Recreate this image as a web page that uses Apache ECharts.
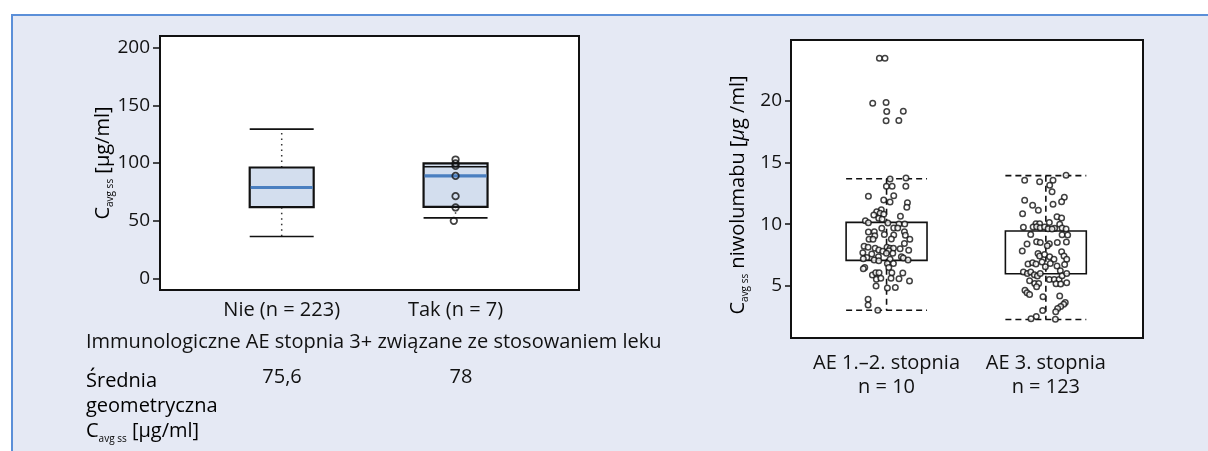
<!DOCTYPE html>
<html lang="pl">
<head>
<meta charset="UTF-8">
<title>Cavg ss – niwolumab</title>
<script src="https://cdn.jsdelivr.net/npm/echarts@6.0.0/dist/echarts.min.js"></script>
<style>
  * { margin: 0; padding: 0; box-sizing: border-box; }
  body { width: 1208px; height: 451px; background: #fff; position: relative; overflow: hidden; }
  .panel {
    position: absolute; left: 11px; top: 14px; right: 0; bottom: 0;
    background: #e5e9f4;
    border-top: 2px solid #5b8fd8;
    border-left: 2px solid #5b8fd8;
  }
  #chart { position: absolute; left: 0; top: 0; width: 1208px; height: 451px; }
</style>
</head>
<body>
<div class="panel"></div>
<div id="chart"></div>
<script>
// ---- left panel: Cavg ss vs immune AE grade 3+ ----
const leftCats = ['Nie (n = 223)', 'Tak (n = 7)'];
// [x, lower whisker, Q1, median, Q3, upper whisker]
const leftBoxes = [
  [1, 36.4, 61.7, 78.8, 96.1, 129.3],
  [2, 52.5, 62.0, 88.8, 99.6, 96.8]
];
const takPoints = [
  [2.0, 103.0], [2.0, 99.6], [2.0, 97.5], [2.0, 88.8],
  [2.0, 71.3], [2.0, 61.5], [1.99, 49.9]
];
const leftTicks = [0, 50, 100, 150, 200];
const geoMeans = ['75,6', '78'];

// ---- right panel: niwolumab Cavg ss vs AE grade ----
const rightCats = ['AE 1.–2. stopnia\nn = 10', 'AE 3. stopnia\nn = 123'];
// [x, lower whisker, Q1, Q3, upper whisker]
const rightBoxes = [
  [1, 3.05, 7.08, 10.15, 13.68],
  [2, 2.30, 6.00, 9.45, 13.93]
];
const rightTicks = [5, 10, 15, 20];
const grade12Points = [
  [0.955, 23.43], [0.99, 23.43],
  [0.913, 19.79], [0.997, 19.84], [1.001, 19.11], [1.105, 19.14], [0.997, 18.36], [1.077, 18.38],
  [1.022, 13.66], [1.122, 13.74], [0.999, 13.07], [1.035, 13.07], [1.121, 13.07],
  [0.886, 12.26], [1.045, 12.31], [0.982, 11.96], [1.022, 11.80], [1.131, 11.74], [1.127, 11.37],
  [0.967, 11.17], [0.938, 11.01], [0.959, 10.88], [0.920, 10.74], [0.982, 10.80], [1.087, 10.64],
  [0.951, 10.48], [0.972, 10.40], [0.867, 10.28], [0.886, 10.12], [1.008, 10.10], [1.078, 10.02], [1.114, 10.02],
  [1.045, 9.69], [1.070, 9.69], [0.970, 9.67], [1.112, 9.40], [0.886, 9.37], [0.923, 9.40],
  [0.986, 9.18], [1.045, 9.13], [1.118, 9.10], [0.926, 9.07],
  [0.890, 8.78], [0.915, 8.78], [1.146, 8.78], [1.030, 8.80], [1.112, 8.45], [0.859, 8.23], [0.884, 8.13],
  [0.928, 8.05], [1.003, 8.13], [1.022, 8.05], [1.043, 8.05], [1.085, 8.02],
  [0.851, 7.69], [0.907, 7.59], [0.951, 7.91], [0.976, 7.81], [1.014, 7.85], [1.139, 7.89], [0.999, 7.65], [1.039, 7.65],
  [0.876, 7.32], [0.949, 7.37], [1.093, 7.37], [1.105, 7.26], [1.135, 7.10], [0.854, 7.21], [0.922, 7.10], [1.022, 7.16], [0.951, 7.04],
  [0.863, 6.51], [0.854, 6.40], [1.005, 6.83], [1.043, 6.83], [1.014, 6.51],
  [0.911, 5.89], [0.932, 6.07], [0.953, 6.07], [1.033, 6.07], [1.102, 6.05],
  [0.936, 5.56], [0.964, 5.64], [1.028, 5.64], [1.078, 5.59], [1.144, 5.40],
  [0.934, 5.00], [1.005, 4.84], [1.055, 4.89],
  [0.884, 3.94], [0.884, 3.46], [0.945, 3.05]
];
const grade3Points = [
  [2.127, 13.96], [1.867, 13.55], [1.961, 13.44], [2.045, 13.55], [2.024, 13.15], [2.039, 12.63], [2.116, 12.18], [2.099, 11.82],
  [1.867, 11.94], [1.917, 11.53], [2.045, 11.61], [1.953, 11.13], [1.854, 10.85], [2.070, 10.61], [2.099, 10.50],
  [2.022, 10.15], [1.938, 10.04], [1.961, 10.04], [1.859, 9.75], [1.920, 9.77], [1.942, 9.80], [1.965, 9.72], [1.992, 9.77],
  [2.014, 9.64], [2.055, 9.67], [2.087, 9.99], [2.102, 9.69], [2.127, 9.61], [2.039, 9.61],
  [1.905, 9.18], [2.102, 9.15], [2.137, 9.13],
  [1.882, 8.40], [1.942, 8.59], [1.965, 8.53], [2.022, 8.42], [2.072, 8.53], [2.129, 8.56],
  [2.009, 8.26], [1.852, 7.83], [1.951, 7.64], [1.961, 7.43], [1.992, 7.56], [2.024, 7.37], [2.051, 7.16], [2.099, 7.77], [2.114, 7.43], [2.131, 7.16],
  [2.118, 6.75], [1.888, 6.78], [1.917, 6.88], [1.938, 6.78], [1.976, 6.94], [1.997, 6.56], [2.028, 6.83], [2.070, 6.62], [2.091, 6.24],
  [1.859, 6.13], [1.884, 6.02], [1.905, 6.13], [1.928, 5.91], [1.947, 5.81], [1.965, 6.02],
  [2.022, 5.53], [2.053, 5.53], [2.083, 5.53], [2.102, 5.83], [2.131, 6.02],
  [1.898, 5.43], [1.930, 5.21], [1.955, 5.21], [1.942, 4.94], [2.064, 5.18], [2.093, 5.16], [2.131, 5.26],
  [1.869, 4.67], [1.882, 4.45], [1.898, 4.32], [1.982, 4.13], [2.087, 4.19],
  [2.122, 3.68], [2.112, 3.52], [2.093, 3.35], [2.074, 3.19], [2.062, 2.92], [1.980, 3.03], [1.940, 2.54], [1.907, 2.35], [2.060, 2.32]
];

const FONT = "'Open Sans', 'Noto Sans', sans-serif";
const INK = '#111';
const subRich = {
  m: { fontFamily: FONT, fontSize: 20, color: INK, lineHeight: 25 },
  s: { fontFamily: FONT, fontSize: 10, color: INK, lineHeight: 10, verticalAlign: 'bottom' },
  i: { fontFamily: FONT, fontSize: 20, color: INK, lineHeight: 25, fontStyle: 'italic' }
};

const chart = echarts.init(document.getElementById('chart'));

function renderLeftBox(params, api) {
  const x = api.value(0);
  const half = api.size([0.368, 0])[0] / 2;
  const lo = api.coord([x, api.value(1)]);
  const q1 = api.coord([x, api.value(2)]);
  const med = api.coord([x, api.value(3)]);
  const q3 = api.coord([x, api.value(4)]);
  const hi = api.coord([x, api.value(5)]);
  const cx = lo[0];
  const dotted = { stroke: '#333', lineWidth: 1.5, lineDash: [1.5, 4] };
  const solid = { stroke: INK, lineWidth: 1.6 };
  return {
    type: 'group',
    children: [
      { type: 'line', shape: { x1: cx, y1: q3[1], x2: cx, y2: hi[1] }, style: dotted },
      { type: 'line', shape: { x1: cx, y1: q1[1], x2: cx, y2: lo[1] }, style: dotted },
      { type: 'rect', shape: { x: cx - half, y: q3[1], width: half * 2, height: q1[1] - q3[1] },
        style: { fill: '#d3deee', stroke: INK, lineWidth: 2.2 } },
      { type: 'line', shape: { x1: cx - half + 1, y1: med[1], x2: cx + half - 1, y2: med[1] },
        style: { stroke: '#4a7fc0', lineWidth: 3.2 } },
      { type: 'line', shape: { x1: cx - half, y1: hi[1], x2: cx + half, y2: hi[1] }, style: solid },
      { type: 'line', shape: { x1: cx - half, y1: lo[1], x2: cx + half, y2: lo[1] }, style: solid }
    ]
  };
}

function renderRightBox(params, api) {
  const x = api.value(0);
  const half = api.size([0.508, 0])[0] / 2;
  const lo = api.coord([x, api.value(1)]);
  const q1 = api.coord([x, api.value(2)]);
  const q3 = api.coord([x, api.value(3)]);
  const hi = api.coord([x, api.value(4)]);
  const cx = lo[0];
  const dashed = { stroke: INK, lineWidth: 1.6, lineDash: [6, 4] };
  return {
    type: 'group',
    children: [
      { type: 'line', shape: { x1: cx, y1: hi[1], x2: cx, y2: lo[1] }, style: dashed },
      { type: 'line', shape: { x1: cx - half, y1: hi[1], x2: cx + half, y2: hi[1] }, style: dashed },
      { type: 'line', shape: { x1: cx - half, y1: lo[1], x2: cx + half, y2: lo[1] }, style: dashed },
      { type: 'rect', shape: { x: cx - half, y: q3[1], width: half * 2, height: q1[1] - q3[1] },
        style: { fill: 'none', stroke: INK, lineWidth: 1.6 } }
    ]
  };
}

const labelStyle = { color: INK, fontFamily: FONT };
const pointStyle = { color: '#fff', borderColor: INK, borderWidth: 1.5 };

chart.setOption({
  animation: false,
  grid: [
    { left: 160, top: 36, width: 419, height: 254, show: true, backgroundColor: '#fff', borderColor: INK, borderWidth: 2 },
    { left: 791, top: 40, width: 352, height: 298, show: true, backgroundColor: '#fff', borderColor: INK, borderWidth: 2 }
  ],
  xAxis: [
    {
      gridIndex: 0, type: 'value', min: 0.3, max: 2.71,
      axisLine: { show: false }, axisTick: { show: false }, splitLine: { show: false },
      axisLabel: {
        customValues: [1, 2], margin: 10, fontSize: 20, ...labelStyle,
        formatter: v => leftCats[Math.round(v) - 1]
      }
    },
    {
      gridIndex: 1, type: 'value', min: 0.4, max: 2.61,
      axisLine: { show: false }, axisTick: { show: false }, splitLine: { show: false },
      axisLabel: {
        customValues: [1, 2], margin: 13, fontSize: 20, lineHeight: 24, ...labelStyle,
        formatter: v => rightCats[Math.round(v) - 1]
      }
    }
  ],
  yAxis: [
    {
      gridIndex: 0, type: 'value', min: -10, max: 210,
      axisLine: { show: false }, splitLine: { show: false },
      axisTick: { show: true, customValues: leftTicks, length: 7, lineStyle: { color: INK, width: 1.5 } },
      axisLabel: { customValues: leftTicks, margin: 10, fontSize: 19, ...labelStyle }
    },
    {
      gridIndex: 1, type: 'value', min: 0.8, max: 24.9,
      axisLine: { show: false }, splitLine: { show: false },
      axisTick: { show: true, customValues: rightTicks, length: 6, lineStyle: { color: INK, width: 1.5 } },
      axisLabel: { customValues: rightTicks, margin: 9, fontSize: 19, ...labelStyle }
    }
  ],
  series: [
    {
      type: 'custom', xAxisIndex: 0, yAxisIndex: 0, renderItem: renderLeftBox,
      encode: { x: 0, y: [1, 2, 3, 4, 5] }, data: leftBoxes, z: 2
    },
    {
      type: 'scatter', xAxisIndex: 0, yAxisIndex: 0, data: takPoints, z: 3,
      symbol: 'circle', symbolSize: 6.5,
      itemStyle: { color: 'rgba(255,255,255,0)', borderColor: INK, borderWidth: 1.8 }
    },
    {
      type: 'custom', xAxisIndex: 1, yAxisIndex: 1, renderItem: renderRightBox,
      encode: { x: 0, y: [1, 2, 3, 4] }, data: rightBoxes, z: 2
    },
    {
      type: 'scatter', xAxisIndex: 1, yAxisIndex: 1, data: grade12Points, z: 3,
      symbol: 'circle', symbolSize: 5.5, itemStyle: pointStyle
    },
    {
      type: 'scatter', xAxisIndex: 1, yAxisIndex: 1, data: grade3Points, z: 3,
      symbol: 'circle', symbolSize: 5.5, itemStyle: pointStyle
    }
  ],
  graphic: [
    {
      type: 'text', x: 103, y: 163, rotation: Math.PI / 2,
      style: { text: '{m|C}{s|avg ss}{m| [µg/ml]}', rich: subRich, align: 'center', verticalAlign: 'middle' }
    },
    {
      type: 'text', x: 738, y: 195, rotation: Math.PI / 2,
      style: { text: '{m|C}{s|avg ss}{m| niwolumabu [}{i|µ}{m|g /ml]}', rich: subRich, align: 'center', verticalAlign: 'middle' }
    },
    {
      type: 'text', x: 86, y: 342,
      style: { text: 'Immunologiczne AE stopnia 3+ związane ze stosowaniem leku', fontFamily: FONT, fontSize: 20, fill: INK, verticalAlign: 'middle' }
    },
    {
      type: 'text', x: 86, y: 369,
      style: { text: '{m|Średnia}\n{m|geometryczna}\n{m|C}{s|avg ss}{m| [µg/ml]}', rich: subRich, verticalAlign: 'top' }
    },
    {
      type: 'text', x: 282, y: 377,
      style: { text: geoMeans[0], fontFamily: FONT, fontSize: 20, fill: INK, align: 'center', verticalAlign: 'middle' }
    },
    {
      type: 'text', x: 461, y: 377,
      style: { text: geoMeans[1], fontFamily: FONT, fontSize: 20, fill: INK, align: 'center', verticalAlign: 'middle' }
    }
  ]
});
</script>
</body>
</html>
